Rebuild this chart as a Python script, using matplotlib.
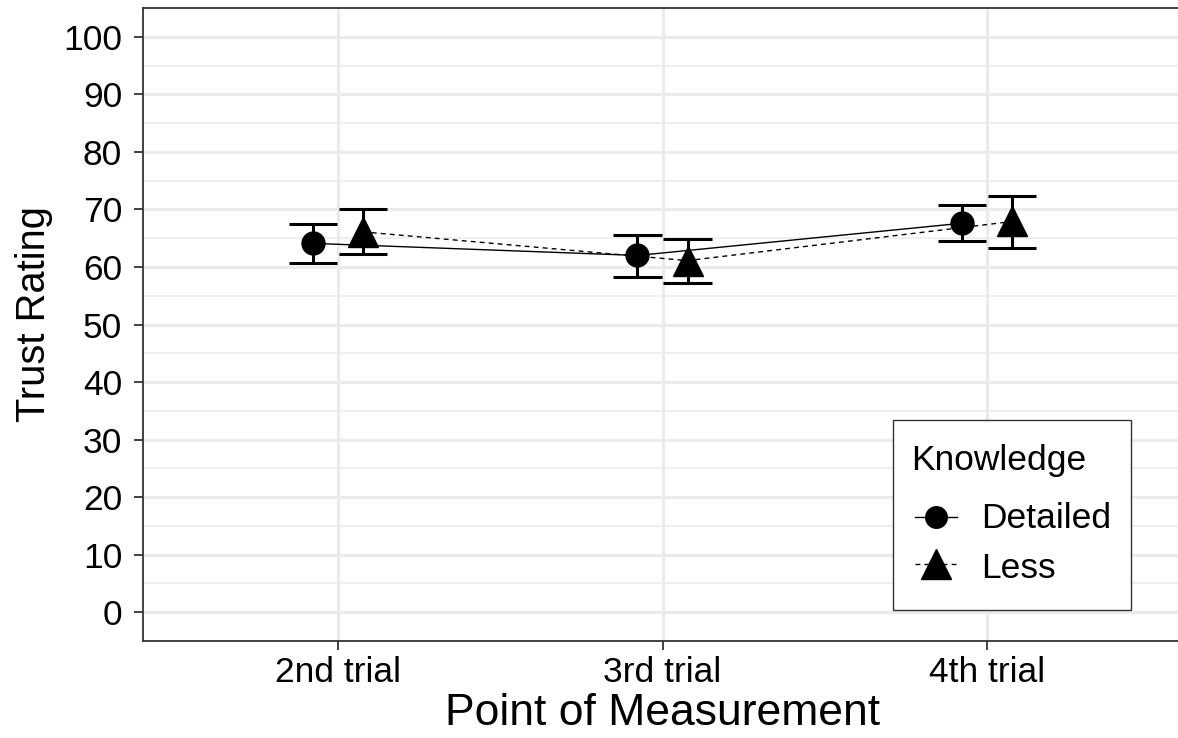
import matplotlib
matplotlib.use("Agg")
import matplotlib.pyplot as plt
from matplotlib.lines import Line2D
from matplotlib.patches import Rectangle
import numpy as np

plt.rcParams['font.family'] = ['Liberation Sans', 'DejaVu Sans']

categories = ["2nd trial", "3rd trial", "4th trial"]
groups = ["Detailed", "Less"]
detailed_mean = [64.1, 62.0, 67.6]
detailed_low = [60.7, 58.3, 64.5]
detailed_high = [67.4, 65.5, 70.7]
less_mean = [66.1, 61.1, 67.9]
less_low = [62.2, 57.2, 63.3]
less_high = [70.1, 64.9, 72.4]
y_ticks = list(range(0, 101, 10))

W, H = 1178, 738
fig = plt.figure(figsize=(W/100, H/100), dpi=100)
ax_left, ax_right, ax_top, ax_bottom = 143, 1182, 8, 641
ax = fig.add_axes([ax_left/W, 1 - ax_bottom/H, (ax_right - ax_left)/W, (ax_bottom - ax_top)/H])

x = np.arange(1, len(categories) + 1)
dodge = 0.077
cap_half = 0.074
dash = (0, (3.5, 3))

series = [
    (detailed_mean, detailed_low, detailed_high, -dodge, 'o', 16.5, '-'),
    (less_mean, less_low, less_high, dodge, '^', 22, dash),
]

for mean, lo, hi, off, mk, ms, ls in series:
    xs = x + off
    ax.plot(xs, mean, color='black', lw=1.0, ls=ls, zorder=3)
    for xi, l, h in zip(xs, lo, hi):
        ax.plot([xi, xi], [l, h], color='black', lw=2.2, zorder=3, solid_capstyle='butt')
        ax.plot([xi - cap_half, xi + cap_half], [l, l], color='black', lw=2.2, zorder=3, solid_capstyle='butt')
        ax.plot([xi - cap_half, xi + cap_half], [h, h], color='black', lw=2.2, zorder=3, solid_capstyle='butt')
    ax.plot(xs, mean, ls='none', marker=mk, ms=ms, color='black', zorder=4)

ax.set_xlim(0.4, 3.6)
ax.set_ylim(-5, 105)
ax.set_xticks(x)
ax.set_xticklabels(categories)
ax.set_yticks(y_ticks)
ax.set_yticks(np.arange(5, 101, 10), minor=True)
ax.grid(True, which='major', color='#EBEBEB', lw=2.2, zorder=0)
ax.grid(True, which='minor', axis='y', color='#EBEBEB', lw=1.1, zorder=0)
ax.set_axisbelow(True)
for s in ax.spines.values():
    s.set_color('#333333')
    s.set_linewidth(1.3)
ax.tick_params(axis='both', which='major', length=6.5, width=1.3, color='#333333',
               labelsize=25.5, labelcolor='black')
ax.tick_params(axis='y', which='major', pad=8.5)
ax.tick_params(axis='x', which='major', pad=4)
ax.tick_params(axis='both', which='minor', length=0)
ax.set_xlabel("Point of Measurement", fontsize=32, labelpad=3)
ax.set_ylabel("Trust Rating", fontsize=28.7, va='center')
ax.yaxis.set_label_coords((34 - ax_left)/(ax_right - ax_left),
                          (ax_bottom - 314)/(ax_bottom - ax_top))

# Legend drawn in figure pixel coordinates
def fx(px):
    return px / W

def fy(py):
    return 1 - py / H

fig.add_artist(Rectangle((fx(893), fy(610)), fx(1131) - fx(893), fy(420) - fy(610),
                         transform=fig.transFigure, facecolor='white',
                         edgecolor='#333333', lw=1.0, zorder=5))
fig.text(fx(911), fy(470), "Knowledge", fontsize=25.5, va='baseline', ha='left', zorder=6)
leg_rows = [
    (groups[0], '-', 'o', 15.5, 517, 528),
    (groups[1], dash, '^', 21.5, 564, 578),
]
for label, ls, mk, ms, yc, yb in leg_rows:
    fig.add_artist(Line2D([fx(915), fx(957)], [fy(yc), fy(yc)], transform=fig.transFigure,
                          color='black', lw=1.0, ls=ls, zorder=6))
    fig.add_artist(Line2D([fx(936)], [fy(yc)], transform=fig.transFigure,
                          color='black', ls='none', marker=mk, ms=ms, zorder=7))
    fig.text(fx(981), fy(yb), label, fontsize=25.5, va='baseline', ha='left', zorder=6)

fig.savefig("out.png", dpi=100)
